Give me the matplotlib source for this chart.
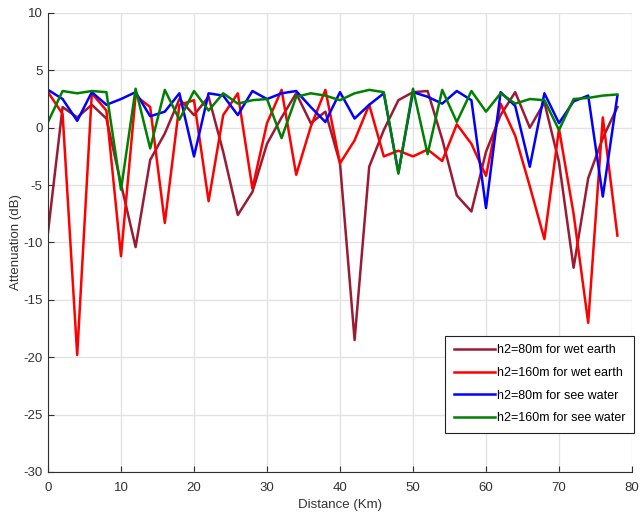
import numpy as np
import matplotlib
matplotlib.use('Agg')
import matplotlib.pyplot as plt

plt.rcParams['font.family'] = ['Liberation Sans', 'DejaVu Sans']
plt.rcParams['axes.unicode_minus'] = False

# distance (km), sampled every 2 km
distance = np.arange(0, 80, 2)

# h2=80m, wet earth
wet_80 = [-9.1, 1.8, 0.9, 2.0, 0.8, -4.9, -10.4, -2.8, -0.5, 2.5,
          1.1, 2.7, -2.1, -7.6, -5.6, -1.4, 0.9, 3.0, 0.4, 1.4,
          -3.1, -18.5, -3.4, -0.2, 2.4, 3.1, 3.2, -1.0, -5.9, -7.3,
          -2.1, 1.1, 3.1, 0.0, 2.2, -3.0, -12.2, -4.4, -0.9, 1.8]
# h2=160m, wet earth
wet_160 = [3.1, 1.2, -19.8, 3.0, 1.5, -11.2, 2.8, 1.8, -8.3, 2.0,
           2.4, -6.4, 1.1, 3.0, -5.3, 0.4, 3.3, -4.1, 0.1, 3.3,
           -3.1, -1.1, 2.0, -2.5, -2.0, -2.5, -1.9, -2.9, 0.3, -1.4,
           -4.2, 2.1, -0.7, -5.1, -9.7, -0.1, -7.5, -17.0, 0.9, -9.4]
# h2=80m, sea water
sea_80 = [3.3, 2.5, 0.6, 3.1, 2.0, 2.5, 3.1, 1.0, 1.4, 3.0,
          -2.5, 3.0, 2.8, 1.1, 3.2, 2.5, 3.0, 3.2, 1.8, 0.5,
          3.1, 0.8, 2.0, 3.0, -3.9, 3.1, 2.7, 2.1, 3.2, 2.4,
          -7.0, 3.1, 1.9, -3.4, 3.0, 0.4, 2.3, 2.8, -6.0, 2.8]
# h2=160m, sea water
sea_160 = [0.5, 3.2, 3.0, 3.2, 3.1, -5.4, 3.4, -1.8, 3.3, 0.7,
           3.2, 1.5, 3.0, 2.1, 2.4, 2.5, -0.9, 2.7, 3.0, 2.8,
           2.4, 3.0, 3.3, 3.1, -4.0, 3.4, -2.3, 3.3, 0.5, 3.2,
           1.4, 3.0, 2.1, 2.5, 2.4, -0.2, 2.5, 2.6, 2.8, 2.9]

series = [
    (wet_80, 'h2=80m for wet earth', '#9b1b35'),
    (wet_160, 'h2=160m for wet earth', '#ff0000'),
    (sea_80, 'h2=80m for see water', '#0000ff'),
    (sea_160, 'h2=160m for see water', '#008000'),
]

fig = plt.figure(figsize=(6.4, 5.15), dpi=100)
ax = fig.add_axes([0.075, 0.0835, 0.9125, 0.8913])

for y, tag, color in series:
    ax.plot(distance, y, color=color, linewidth=1.8, label=tag)

ax.set_xlim(0, 80)
ax.set_ylim(-30, 10)
ax.set_xticks(np.arange(0, 81, 10))
ax.set_yticks(np.arange(-30, 11, 5))

# MATLAB-ish look: light grid, box off
ax.grid(True, color='#e3e3e3', linewidth=1.0)
ax.set_axisbelow(True)
ax.spines['top'].set_visible(False)
ax.spines['right'].set_visible(False)
ax.spines['left'].set_color('#303030')
ax.spines['bottom'].set_color('#303030')
ax.tick_params(direction='in', length=4, color='#303030', labelsize=9.5,
               labelcolor='#333333')
ax.tick_params(axis='x', pad=7)
ax.tick_params(axis='y', pad=4)

ax.set_xlabel('Distance (Km)', fontsize=9.5, color='#333333', labelpad=4)
ax.set_ylabel('Attenuation (dB)', fontsize=9.5, color='#333333', labelpad=1)

leg = ax.legend(loc='lower right', bbox_to_anchor=(1.004, 0.085), fontsize=9,
                handlelength=3.3, labelspacing=0.85, handletextpad=0.15,
                borderpad=0.7, borderaxespad=0, fancybox=False, framealpha=1)
leg.get_frame().set_edgecolor('#222222')
leg.get_frame().set_linewidth(0.8)

fig.savefig('out.png', dpi=100)
